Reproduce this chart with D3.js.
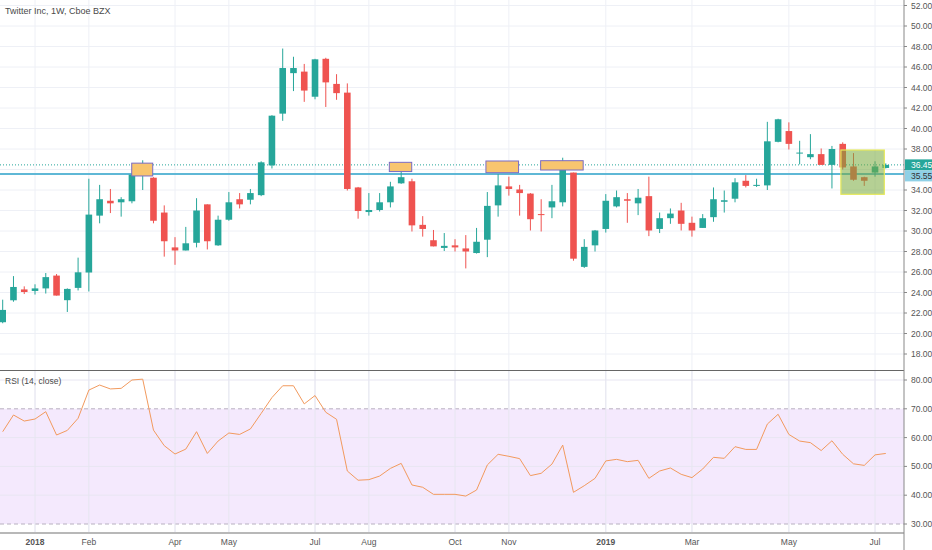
<!DOCTYPE html>
<html>
<head>
<meta charset="utf-8">
<script src="https://cdn.jsdelivr.net/npm/d3@7"></script>
<style>
  body { margin: 0; background: #fff; }
  svg { display: block; font-family: "Liberation Sans", Arial, sans-serif; }
</style>
</head>
<body>
<div id="viz"></div>
<script>
// weekly bars, Dec 11 2017 .. Jul 8 2019 (index = week number)
const opens  = [21.1,23.24,24.3,24.15,24.4,25.65,23.25,24.45,25.95,31.5,32.95,32.8,32.9,35.55,35.2,31.8,28.4,28.1,28.85,32.6,
                28.6,31.1,33.1,33.05,33.5,36.4,41.45,45.4,45.55,43.1,46.8,44.35,43.5,34.25,31.85,32.05,32.8,34.65,34.85,30.6,
                29.1,28.35,28.6,28.3,27.85,29.15,32.5,34.35,34.05,33.65,31.65,32.3,32.8,35.7,26.5,28.6,30.2,32.4,33.1,32.7,
                33.4,30.2,31.25,32.0,30.8,30.3,31.35,32.85,33.15,34.9,34.4,34.45,38.7,39.75,37.6,37.2,37.5,36.45,38.5,36.3,
                35.25,35.7,36.15];
const highs  = [23.3,25.6,24.6,24.8,25.9,25.8,24.4,27.4,35.1,34.5,34.1,33.3,35.6,36.9,35.25,32.5,29.4,30.4,33.2,32.6,
                31.5,33.8,33.7,34.1,36.8,41.3,47.8,47.0,46.3,46.8,46.9,45.3,44.4,34.3,33.7,33.7,34.8,36.0,35.1,31.45,
                30.1,29.8,29.2,29.6,30.3,33.8,35.55,35.3,34.5,33.7,33.1,34.5,37.15,35.7,29.2,30.1,33.6,33.95,33.7,34.1,
                35.3,31.8,32.2,32.75,31.4,31.65,34.25,33.95,35.15,35.45,35.1,40.65,40.95,40.6,38.8,39.45,38.05,38.3,38.65,37.6,
                35.3,36.8,36.6];
const lows   = [21.0,23.1,23.85,23.8,23.9,23.7,22.1,24.2,24.1,30.75,31.75,31.4,32.7,34.0,30.75,27.5,26.7,28.1,28.4,28.2,
                28.55,31.0,32.2,32.6,33.4,36.1,40.75,43.65,42.6,42.85,42.1,42.8,33.95,31.2,31.5,31.9,32.3,34.6,29.95,29.45,
                28.5,28.05,28.0,26.35,27.8,27.45,31.4,33.45,31.5,30.05,29.95,31.25,32.4,27.1,26.4,28.0,29.85,32.3,30.8,31.55,
                29.5,29.8,30.7,30.05,29.45,30.3,30.9,31.8,32.8,34.25,34.3,34.0,38.65,37.95,36.5,37.0,36.45,34.15,36.0,34.9,
                34.4,35.3,36.1];
const closes = [22.3,24.54,24.05,24.4,25.5,23.7,24.35,25.97,31.6,33.1,32.7,33.1,35.5,35.75,31.0,29.0,28.1,28.8,32.0,29.0,
                31.1,32.8,32.6,33.7,36.7,41.25,45.9,45.9,43.7,46.75,44.5,43.45,34.1,31.95,32.05,32.8,34.35,35.25,30.55,30.2,
                28.5,28.55,28.4,28.0,28.95,32.45,34.45,34.1,33.7,31.15,31.55,32.9,35.95,27.3,28.45,30.05,32.95,33.3,32.95,33.25,
                30.05,31.25,31.7,30.7,30.05,31.25,33.1,33.0,34.75,34.4,34.5,38.75,40.9,38.5,37.65,37.5,36.45,38.0,36.2,35.0,
                34.9,36.3,36.45];
const rsi    = [62.05,67.85,65.75,66.45,69.0,60.9,62.5,66.7,76.5,78.25,76.9,77.1,80.0,80.3,62.6,57.2,54.3,56.0,62.05,54.5,
                58.8,61.6,61.1,63.0,68.4,73.9,78.0,78.0,71.7,74.6,68.8,66.35,48.4,45.2,45.4,46.65,49.3,51.05,43.55,42.75,
                40.3,40.3,40.3,39.7,41.8,50.5,54.2,53.5,52.7,46.8,47.6,50.8,57.4,41.0,43.3,45.85,51.9,52.45,51.65,52.1,
                45.85,48.4,49.45,47.25,46.1,49.1,53.15,52.8,56.85,55.9,55.9,64.7,68.1,61.1,58.8,58.25,55.5,58.9,54.2,50.9,
                50.35,54.0,54.5];

const timeTicks  = [3, 8, 16, 21, 29, 34, 42, 47, 56, 64, 73, 81];
const timeLabels = ["2018","Feb","Apr","May","Jul","Aug","Oct","Nov","2019","Mar","May","Jul"];
const priceTicks = [18,20,22,24,26,28,30,32,34,36,38,40,42,44,46,48,50,52];
const rsiTicks   = [30,40,50,60,70,80];

// drawn rectangles: [from index, to index, top price, bottom price]
const orangeBoxes = [[11.98,13.93,36.62,35.37],[35.9,37.98,36.7,35.8],[44.87,47.9,36.83,35.69],[49.95,53.9,36.86,35.95]];
const greenBox = [77.83,81.86,37.9,33.58];
const supportLevel = 35.55;
const lastPrice = 36.45;

const W = 932, H = 550, axisX = 904;
const svg = d3.select('#viz').append('svg').attr('width', W).attr('height', H);

const x = d3.scaleLinear().domain([0, 82]).range([2.7, 885.8]);
const y = d3.scaleLinear().domain([18, 52]).range([354, 5.5]);
const yr = d3.scaleLinear().domain([30, 80]).range([524, 380]);

// grid
svg.selectAll('.vgrid').data(timeTicks).enter().append('line')
  .attr('x1', d => x(d)).attr('x2', d => x(d)).attr('y1', 0).attr('y2', 533)
  .attr('stroke', '#eef0f6').attr('stroke-width', 1);
svg.selectAll('.hgrid').data(priceTicks).enter().append('line')
  .attr('x1', 0).attr('x2', axisX).attr('y1', d => y(d)).attr('y2', d => y(d))
  .attr('stroke', '#eef0f6');

// rsi band
svg.append('rect').attr('x', 0).attr('width', axisX)
  .attr('y', yr(70)).attr('height', yr(30) - yr(70)).attr('fill', '#f4e9fd');
svg.selectAll('.rgrid').data(rsiTicks).enter().append('line')
  .attr('x1', 0).attr('x2', axisX).attr('y1', d => yr(d)).attr('y2', d => yr(d))
  .attr('stroke', d => (d == 70 || d == 30) ? '#b8b0c0' : '#e8e6f2')
  .attr('stroke-dasharray', d => (d == 70 || d == 30) ? '4,3' : null);
svg.selectAll('.vgrid2').data(timeTicks).enter().append('line')
  .attr('x1', d => x(d)).attr('x2', d => x(d)).attr('y1', 371).attr('y2', 533)
  .attr('stroke', '#e6e6f0');

// horizontal levels
svg.append('line').attr('x1', 0).attr('x2', axisX).attr('y1', y(supportLevel)).attr('y2', y(supportLevel))
  .attr('stroke', '#5fb8d6').attr('stroke-width', 2);
svg.append('line').attr('x1', 0).attr('x2', axisX).attr('y1', y(lastPrice)).attr('y2', y(lastPrice))
  .attr('stroke', '#26a69a').attr('stroke-width', 1).attr('stroke-dasharray', '1,2');

// candles
const idx = d3.range(opens.length);
const col = i => closes[i] >= opens[i] ? '#26a69a' : '#ef5350';
svg.selectAll('.wick').data(idx).enter().append('line')
  .attr('x1', i => x(i)).attr('x2', i => x(i))
  .attr('y1', i => y(highs[i])).attr('y2', i => y(lows[i]))
  .attr('stroke', col).attr('stroke-width', 1);
svg.selectAll('.body').data(idx).enter().append('rect')
  .attr('x', i => x(i) - 3.3).attr('width', 6.6)
  .attr('y', i => y(Math.max(opens[i], closes[i])))
  .attr('height', i => Math.max(1, Math.abs(y(opens[i]) - y(closes[i]))))
  .attr('fill', col);

// boxes
svg.selectAll('.obox').data(orangeBoxes).enter().append('rect')
  .attr('x', d => x(d[0])).attr('width', d => x(d[1]) - x(d[0]))
  .attr('y', d => y(d[2])).attr('height', d => y(d[3]) - y(d[2]))
  .attr('fill', '#f8c56f').attr('stroke', '#7a6cc4').attr('stroke-width', 1);
svg.append('rect')
  .attr('x', x(greenBox[0])).attr('width', x(greenBox[1]) - x(greenBox[0]))
  .attr('y', y(greenBox[2])).attr('height', y(greenBox[3]) - y(greenBox[2]))
  .attr('fill', 'rgba(120,170,60,0.55)').attr('stroke', '#e6e85a').attr('stroke-width', 1.2);

// rsi line
svg.append('path').datum(idx)
  .attr('d', d3.line().x(i => x(i)).y(i => yr(rsi[i])))
  .attr('fill', 'none').attr('stroke', '#f29a5e').attr('stroke-width', 1);

// pane borders
svg.append('rect').attr('x', axisX).attr('y', 0).attr('width', W - axisX).attr('height', H).attr('fill', '#fff');
svg.append('line').attr('x1', 0).attr('x2', axisX).attr('y1', 370.5).attr('y2', 370.5).attr('stroke', '#666');
svg.append('line').attr('x1', 0).attr('x2', axisX).attr('y1', 533).attr('y2', 533).attr('stroke', '#b8b8b8').attr('stroke-width', 2);
svg.append('line').attr('x1', axisX).attr('x2', axisX).attr('y1', 0).attr('y2', H).attr('stroke', '#888');

// right axes (36.00 sits under the price tags)
const fmt = d3.format('.2f');
svg.selectAll('.pt').data(priceTicks).enter().append('line')
  .attr('x1', axisX).attr('x2', axisX + 3).attr('y1', d => y(d)).attr('y2', d => y(d)).attr('stroke', '#888');
svg.selectAll('.pl').data(priceTicks.filter(d => d != 36)).enter().append('text')
  .attr('x', axisX + 7).attr('y', d => y(d) + 3).attr('font-size', 8.5).attr('fill', '#555')
  .text(d => fmt(d));
svg.selectAll('.rt').data(rsiTicks).enter().append('line')
  .attr('x1', axisX).attr('x2', axisX + 3).attr('y1', d => yr(d)).attr('y2', d => yr(d)).attr('stroke', '#888');
svg.selectAll('.rl').data(rsiTicks).enter().append('text')
  .attr('x', axisX + 7).attr('y', d => yr(d) + 3).attr('font-size', 8.5).attr('fill', '#555')
  .text(d => fmt(d));

// price tags, stacked so they do not collide
const tagLast = y(lastPrice), tagSup = Math.max(y(supportLevel), tagLast + 11);
svg.append('rect').attr('x', axisX + 1).attr('y', tagLast - 5.5).attr('width', W - axisX).attr('height', 11).attr('fill', '#26a69a');
svg.append('text').attr('x', axisX + 7).attr('y', tagLast + 3).attr('font-size', 8.5).attr('fill', '#fff').text(fmt(lastPrice));
svg.append('rect').attr('x', axisX + 1).attr('y', tagSup - 5.5).attr('width', W - axisX).attr('height', 11).attr('fill', '#8fd0e6');
svg.append('text').attr('x', axisX + 7).attr('y', tagSup + 3).attr('font-size', 8.5).attr('fill', '#333').text(fmt(supportLevel));

// time axis
svg.selectAll('.tl').data(timeTicks).enter().append('text')
  .attr('x', (d, k) => x(d)).attr('y', 545).attr('text-anchor', 'middle')
  .attr('font-size', 8.5).attr('fill', '#555')
  .attr('font-weight', (d, k) => /^\d+$/.test(timeLabels[k]) ? 'bold' : 'normal')
  .text((d, k) => timeLabels[k]);

// titles
svg.append('text').attr('x', 5).attr('y', 14).attr('font-size', 9).attr('fill', '#4a4a4a').text('Twitter Inc, 1W, Cboe BZX');
svg.append('text').attr('x', 5).attr('y', 384).attr('font-size', 8.5).attr('fill', '#4a4a4a').text('RSI (14, close)');
</script>
</body>
</html>
